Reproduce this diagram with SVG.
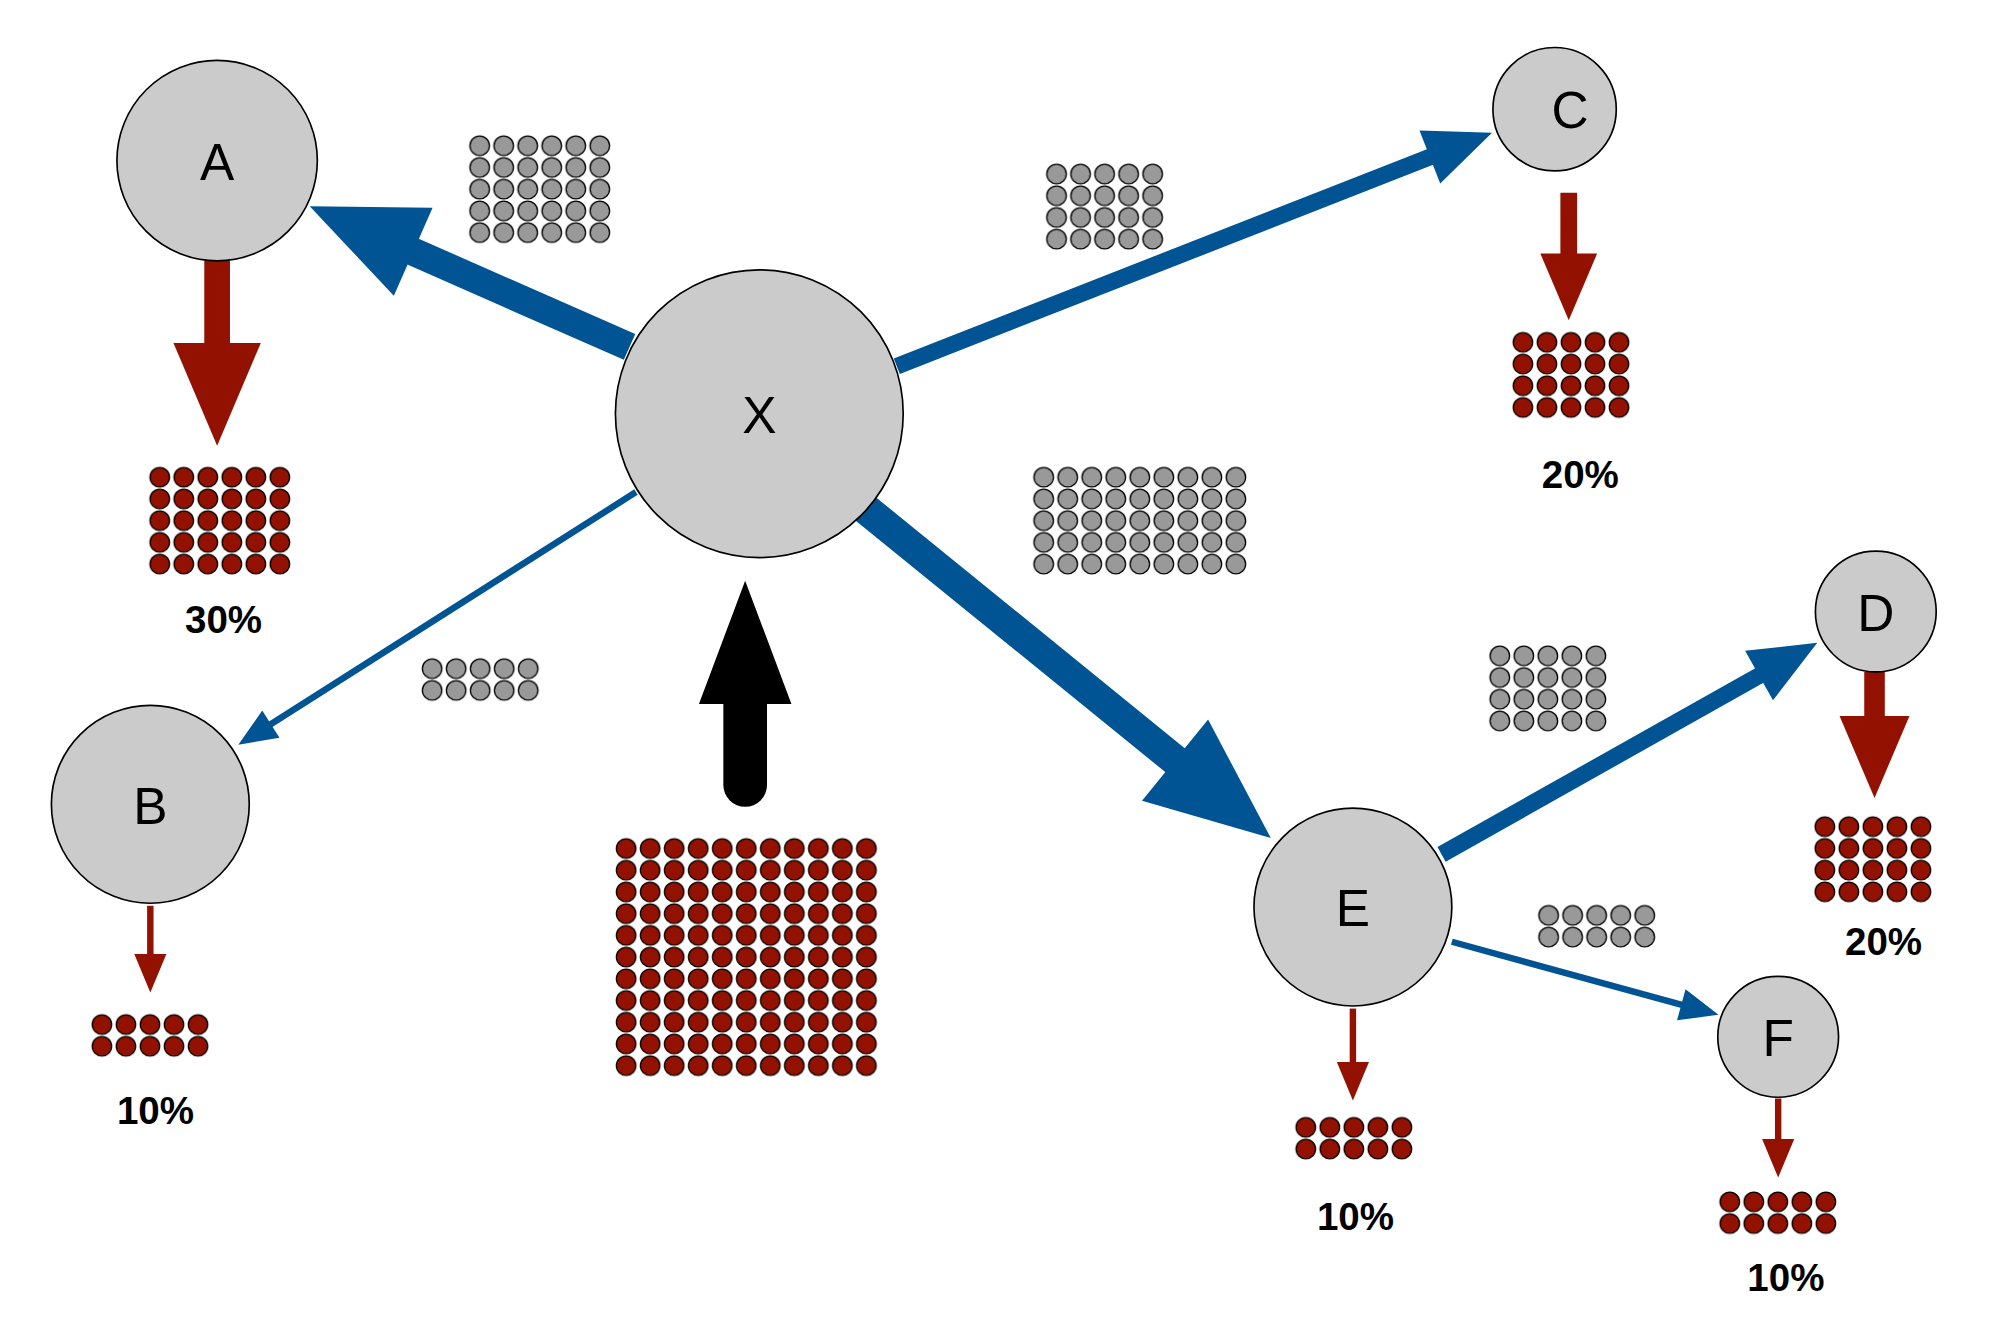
<svg xmlns="http://www.w3.org/2000/svg" width="1994" height="1338" viewBox="0 0 1994 1338">
<style>
.node{fill:#cbcbcb;stroke:#000;stroke-width:1.3}
.lbl{font-family:"Liberation Sans",Arial,sans-serif;font-size:40px;text-anchor:middle;fill:#000}
.pct{font-family:"Liberation Sans",Arial,sans-serif;font-size:30px;font-weight:bold;text-anchor:middle;fill:#000}
.b{stroke:#005493;fill:none}
.r{stroke:#931100;fill:none}
</style>
<defs>
<pattern id="gray" patternUnits="userSpaceOnUse" width="18.7" height="16.9"><circle cx="9.35" cy="8.45" r="7.6" fill="#999" stroke="#000" stroke-width="1"/></pattern>
<pattern id="red" patternUnits="userSpaceOnUse" width="18.7" height="16.9"><circle cx="9.35" cy="8.45" r="7.6" fill="#931100" stroke="#000" stroke-width="1"/></pattern>
<marker id="bb" markerWidth="4" markerHeight="3.4" viewBox="0 -1.7 4 3.4" refX="0.05" refY="0" orient="auto" overflow="visible"><path d="M0,-1.7L4,0L0,1.7z" fill="#005493"/></marker>
<marker id="bt" markerWidth="6" markerHeight="5" viewBox="0 -2.5 6 5" refX="0.1" refY="0" orient="auto" overflow="visible"><path d="M0,-2.5L6,0L0,2.5z" fill="#005493"/></marker>
<marker id="rb" markerWidth="4" markerHeight="3.4" viewBox="0 -1.7 4 3.4" refX="0.05" refY="0" orient="auto" overflow="visible"><path d="M0,-1.7L4,0L0,1.7z" fill="#931100"/></marker>
<marker id="rt" markerWidth="6" markerHeight="5" viewBox="0 -2.5 6 5" refX="0.1" refY="0" orient="auto" overflow="visible"><path d="M0,-2.5L6,0L0,2.5z" fill="#931100"/></marker>
</defs>
<rect width="1994" height="1338" fill="#fff"/>
<g transform="scale(1.2848)">
<g id="connectors">
<path class="b" d="M490,270L320.6,195.5" stroke-width="22" marker-end="url(#bb)"/>
<path class="b" d="M698,285L1113.5,122" stroke-width="13" marker-end="url(#bb)"/>
<path class="b" d="M495,383L210.4,563.9" stroke-width="5" marker-end="url(#bt)"/>
<path class="b" d="M670,393L915.5,592.4" stroke-width="24" marker-end="url(#bb)"/>
<path class="b" d="M1122,665L1369.7,525.5" stroke-width="13" marker-end="url(#bb)"/>
<path class="b" d="M1130,733L1309.1,782.1" stroke-width="5" marker-end="url(#bt)"/>
<path class="r" d="M169,203L169,268" stroke-width="20" marker-end="url(#rb)"/>
<path class="r" d="M1221,150L1221,198" stroke-width="13" marker-end="url(#rb)"/>
<path class="r" d="M117,705L117,743" stroke-width="5" marker-end="url(#rt)"/>
<path class="r" d="M1459,523L1459,558" stroke-width="16" marker-end="url(#rb)"/>
<path class="r" d="M1053,785L1053,827" stroke-width="5" marker-end="url(#rt)"/>
<path class="r" d="M1384,855L1384,887" stroke-width="5" marker-end="url(#rt)"/>
<path d="M580,611L580,545" stroke="#000" stroke-width="34" stroke-linecap="round" fill="none"/>
<polygon points="544,548 616,548 580,452" fill="#000"/>
</g>
<g id="grids">
<rect transform="translate(364,105)" width="112.2" height="84.5" fill="url(#gray)"/>
<rect transform="translate(813,127)" width="93.5" height="67.6" fill="url(#gray)"/>
<rect transform="translate(803,363)" width="168.3" height="84.5" fill="url(#gray)"/>
<rect transform="translate(327,512)" width="93.5" height="33.8" fill="url(#gray)"/>
<rect transform="translate(1158,502)" width="93.5" height="67.6" fill="url(#gray)"/>
<rect transform="translate(1196,704)" width="93.5" height="33.8" fill="url(#gray)"/>
<rect transform="translate(115,363)" width="112.2" height="84.5" fill="url(#red)"/>
<rect transform="translate(1176,258)" width="93.5" height="67.6" fill="url(#red)"/>
<rect transform="translate(478,652)" width="205.7" height="185.9" fill="url(#red)"/>
<rect transform="translate(70,789)" width="93.5" height="33.8" fill="url(#red)"/>
<rect transform="translate(1411,635)" width="93.5" height="67.6" fill="url(#red)"/>
<rect transform="translate(1007,869)" width="93.5" height="33.8" fill="url(#red)"/>
<rect transform="translate(1337,927)" width="93.5" height="33.8" fill="url(#red)"/>
</g>
<g id="labels">
<text class="pct" x="174" y="493">30%</text>
<text class="pct" x="1230" y="380">20%</text>
<text class="pct" x="121" y="875">10%</text>
<text class="pct" x="1466" y="743">20%</text>
<text class="pct" x="1055" y="957">10%</text>
<text class="pct" x="1390" y="1005">10%</text>
</g>
<g id="X"><circle class="node" cx="591" cy="322" r="112"/><text class="lbl" x="591" y="337" font-size="44">X</text></g>
<g id="A"><circle class="node" cx="169" cy="125" r="78"/><text class="lbl" x="169" y="140">A</text></g>
<g id="C"><circle class="node" cx="1210" cy="85" r="48"/><text class="lbl" x="1222" y="100">C</text></g>
<g id="B"><circle class="node" cx="117" cy="626" r="77"/><text class="lbl" x="117" y="641">B</text></g>
<g id="D"><circle class="node" cx="1460" cy="476" r="47"/><text class="lbl" x="1460" y="491">D</text></g>
<g id="E"><circle class="node" cx="1053" cy="706" r="77"/><text class="lbl" x="1053" y="721">E</text></g>
<g id="F"><circle class="node" cx="1384" cy="807" r="47"/><text class="lbl" x="1384" y="822">F</text></g>
</g>
</svg>
